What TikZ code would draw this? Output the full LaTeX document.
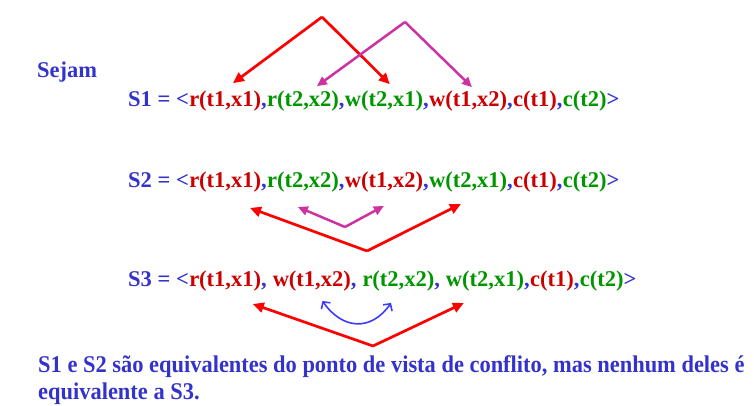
\documentclass[tikz,border=0pt]{standalone}
\usepackage{fontspec}
\setmainfont{Liberation Serif}
\newfontfamily\condfont[FakeStretch=0.935]{Liberation Serif}
\usepackage{xcolor}
\usetikzlibrary{positioning,arrows.meta}

\definecolor{opblue}{RGB}{51,51,204}
\definecolor{opred}{RGB}{204,0,0}
\definecolor{opgreen}{RGB}{0,150,0}
\definecolor{arrred}{RGB}{255,0,0}
\definecolor{arrpink}{RGB}{204,51,160}
\definecolor{arrblue}{RGB}{60,60,255}

\newcommand{\tone}[1]{\textcolor{opred}{#1}}
\newcommand{\ttwo}[1]{\textcolor{opgreen}{#1}}
\newcommand{\opsep}{\textcolor{opblue}{,}}

\tikzset{
  op/.style={inner sep=0pt, font=\fontsize{22.5}{27}\selectfont\bfseries},
  note/.style={inner sep=0pt, anchor=base west, text=opblue, font=\condfont\fontsize{24}{27}\selectfont\bfseries},
  redarrow/.style={arrred, line width=2.7pt, -{Triangle[length=11pt,width=10pt]}},
  pinkarrow/.style={arrpink, line width=2.5pt, -{Triangle[length=10pt,width=9pt]}},
  curvearrow/.style={arrblue, line width=1.6pt, {Straight Barb[length=5pt,width=11pt]}-{Straight Barb[length=5pt,width=11pt]}}
}

\begin{document}
\begin{tikzpicture}[x=1pt,y=1pt]
\useasboundingbox (0,0) rectangle (754,406);

\node[op, anchor=base west, text=opblue] (sejam) at (37,328) {Sejam};

% S1
\node[op, anchor=base west, text=opblue] (s1) at (128,299) {S1 = <};
\node[op, base right=0pt of s1] (s1a) {\tone{r(t1,x1)}\opsep};
\node[op, base right=0pt of s1a] (s1b) {\ttwo{r(t2,x2)}\opsep};
\node[op, base right=0pt of s1b] (s1c) {\ttwo{w(t2,x1)}\opsep};
\node[op, base right=0pt of s1c] (s1d) {\tone{w(t1,x2)}\opsep};
\node[op, base right=0pt of s1d] (s1e) {\tone{c(t1)}\opsep};
\node[op, base right=0pt of s1e] (s1f) {\ttwo{c(t2)}\textcolor{opblue}{>}};

% S2
\node[op, anchor=base west, text=opblue] (s2) at (128,218) {S2 = <};
\node[op, base right=0pt of s2] (s2a) {\tone{r(t1,x1)}\opsep};
\node[op, base right=0pt of s2a] (s2b) {\ttwo{r(t2,x2)}\opsep};
\node[op, base right=0pt of s2b] (s2c) {\tone{w(t1,x2)}\opsep};
\node[op, base right=0pt of s2c] (s2d) {\ttwo{w(t2,x1)}\opsep};
\node[op, base right=0pt of s2d] (s2e) {\tone{c(t1)}\opsep};
\node[op, base right=0pt of s2e] (s2f) {\ttwo{c(t2)}\textcolor{opblue}{>}};

% S3
\node[op, anchor=base west, text=opblue] (s3) at (128,119) {S3 = <};
\node[op, base right=0pt of s3] (s3a) {\tone{r(t1,x1)}\opsep\kern0.25em};
\node[op, base right=0pt of s3a] (s3b) {\tone{w(t1,x2)}\opsep\kern0.25em};
\node[op, base right=0pt of s3b] (s3c) {\ttwo{r(t2,x2)}\opsep\kern0.25em};
\node[op, base right=0pt of s3c] (s3d) {\ttwo{w(t2,x1)}\opsep};
\node[op, base right=0pt of s3d] (s3e) {\tone{c(t1)}\opsep};
\node[op, base right=0pt of s3e] (s3f) {\ttwo{c(t2)}\textcolor{opblue}{>}};

% conclusao
\node[note] (concl1) at (38,33) {S1 e S2 são equivalentes do ponto de vista de conflito, mas nenhum deles é};
\node[note] (concl2) at (38,6) {equivalente a S3.};

% conflitos em S1
\coordinate (top1) at (322,389);
\coordinate (top2) at (405,384);
\draw[redarrow] (top1) -- ([xshift=5pt,yshift=8pt]s1a.north);
\draw[redarrow] (top1) -- ([xshift=3pt,yshift=7pt]s1c.north);
\draw[pinkarrow] (top2) -- ([xshift=11pt,yshift=5pt]s1b.north);
\draw[pinkarrow] (top2) -- ([xshift=1pt,yshift=4pt]s1d.north);

% conflitos em S2
\coordinate (low1) at (367,155);
\coordinate (low2) at (345,179);
\draw[redarrow] (low1) -- ([xshift=22pt,yshift=-15pt]s2a.south);
\draw[redarrow] (low1) -- ([xshift=-10pt,yshift=-11pt]s2d.south);
\draw[pinkarrow] (low2) -- ([xshift=-8pt,yshift=-14pt]s2b.south);
\draw[pinkarrow] (low2) -- ([xshift=-3pt,yshift=-13pt]s2c.south);

% conflitos em S3
\coordinate (low3) at (373,60);
\draw[redarrow] (low3) -- ([xshift=22pt,yshift=-12pt]s3a.south);
\draw[redarrow] (low3) -- ([xshift=-24pt,yshift=-11pt]s3d.south);
\draw[curvearrow] ([xshift=5pt,yshift=-9pt]s3b.south) to[out=-55,in=-125,looseness=1.3] ([xshift=-13pt,yshift=-11pt]s3c.south);
\end{tikzpicture}
\end{document}
